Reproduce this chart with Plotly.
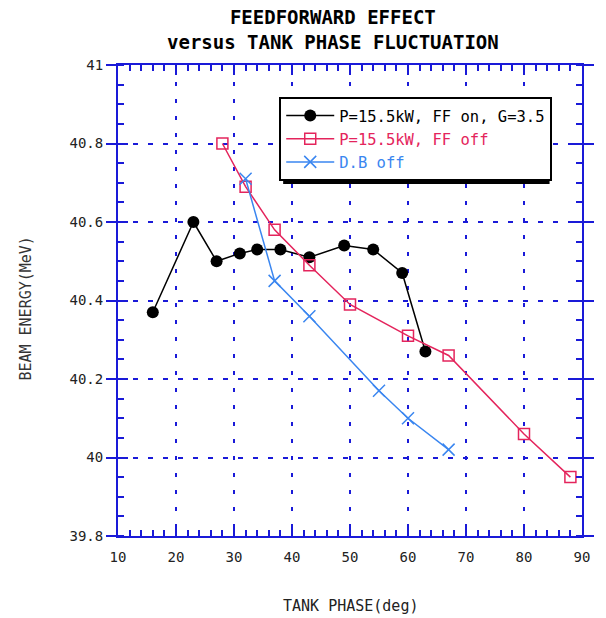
import plotly.graph_objects as go

# Data
ff_on_x = [16, 23, 27, 31, 34, 38, 43, 49, 54, 59, 63]
ff_on_y = [40.37, 40.60, 40.50, 40.52, 40.53, 40.53, 40.51, 40.54, 40.53, 40.47, 40.27]

ff_off_x = [28, 32, 37, 43, 50, 60, 67, 80, 88]
ff_off_y = [40.80, 40.69, 40.58, 40.49, 40.39, 40.31, 40.26, 40.06, 39.95]

db_off_x = [32, 37, 43, 55, 60, 67]
db_off_y = [40.71, 40.45, 40.36, 40.17, 40.10, 40.02]

series_names = ["P=15.5kW, FF on, G=3.5", "P=15.5kW, FF off", "D.B off"]
x_ticks = [10, 20, 30, 40, 50, 60, 70, 80, 90]
y_ticks = [39.8, 40.0, 40.2, 40.4, 40.6, 40.8, 41.0]
y_tick_text = ["39.8", "40", "40.2", "40.4", "40.6", "40.8", "41"]

BLACK = "#000000"
RED = "#e4245c"
BLUE = "#3a86f0"
AXIS = "#1a1ad8"
MONO = "DejaVu Sans Mono"

X_RANGE = [10, 90]
Y_RANGE = [39.8, 41.0]

# plot area in pixels (for paper-coordinate conversion of decorations)
L, R, T, B = 118, 590, 65, 536
PW, PH = R - L, B - T


def px(x):
    return (x - L) / PW


def py(y):
    return (B - y) / PH


fig = go.Figure()
fig.add_trace(go.Scatter(
    x=ff_on_x, y=ff_on_y, mode="lines+markers", name=series_names[0],
    line=dict(color=BLACK, width=1.5),
    marker=dict(symbol="circle", size=12, color=BLACK),
))
fig.add_trace(go.Scatter(
    x=ff_off_x, y=ff_off_y, mode="lines+markers",
    name=f"<span style='color:{RED}'>{series_names[1]}</span>",
    line=dict(color=RED, width=1.5),
    marker=dict(symbol="square-open", size=11, color=RED, line=dict(width=1.5, color=RED)),
))
fig.add_trace(go.Scatter(
    x=db_off_x, y=db_off_y, mode="lines+markers",
    name=f"<span style='color:{BLUE}'>{series_names[2]}</span>",
    line=dict(color=BLUE, width=1.5),
    marker=dict(symbol="x-thin", size=12, color=BLUE, line=dict(width=1.5, color=BLUE)),
))
# invisible trace to anchor the overlay y axis (crossing ticks)
fig.add_trace(go.Scatter(x=[None], y=[None], yaxis="y2", showlegend=False, hoverinfo="skip"))

fig.update_layout(
    width=606, height=618,
    margin=dict(l=L, r=606 - R, t=T, b=618 - B),
    paper_bgcolor="white", plot_bgcolor="white",
    font=dict(family=MONO, color="#222222", size=14),
    xaxis=dict(
        range=X_RANGE, tickvals=x_ticks, ticks="inside", ticklen=10, tickwidth=1.5,
        tickcolor=AXIS, showline=True, linecolor=AXIS, linewidth=2, mirror="ticks",
        showgrid=True, gridcolor=AXIS, gridwidth=1.5, griddash="4px,13px",
        zeroline=False, ticklabelstandoff=7,
        tickfont=dict(family=MONO, size=14, color="#222222"),
        minor=dict(dtick=2, ticks="inside", ticklen=6, tickwidth=1.5, tickcolor=AXIS, showgrid=False),
    ),
    yaxis=dict(
        range=Y_RANGE, tickvals=y_ticks, ticktext=y_tick_text, ticks="outside", ticklen=10,
        tickwidth=1.5, tickcolor=AXIS, showline=True, linecolor=AXIS, linewidth=2, mirror="ticks",
        showgrid=True, gridcolor=AXIS, gridwidth=1.5, griddash="5px,10px",
        zeroline=False,
        tickfont=dict(family=MONO, size=14, color="#222222"),
        minor=dict(dtick=0.05, ticks="inside", ticklen=6, tickwidth=1.5, tickcolor=AXIS, showgrid=False),
    ),
    yaxis2=dict(
        range=Y_RANGE, overlaying="y", side="left", tickvals=y_ticks, ticks="inside",
        ticklen=10, tickwidth=1.5, tickcolor=AXIS, mirror="ticks", showline=False,
        showgrid=False, zeroline=False, showticklabels=False,
    ),
    legend=dict(
        x=px(282), y=py(97), xanchor="left", yanchor="top",
        bgcolor="white", bordercolor="#000000", borderwidth=2,
        font=dict(family=MONO, size=15.5, color="#000000"),
        itemwidth=48, tracegroupgap=0,
    ),
    showlegend=True,
    annotations=[
        dict(text="<b>FEEDFORWARD EFFECT<br>versus TANK PHASE FLUCTUATION</b>",
             x=px(337), y=py(29), xref="paper", yref="paper", showarrow=False,
             xanchor="center", yanchor="middle",
             font=dict(family=MONO, size=19, color="#000000")),
        dict(text="BEAM ENERGY(MeV)", textangle=-90, x=px(24), y=py(308),
             xref="paper", yref="paper", showarrow=False, xanchor="center", yanchor="middle",
             font=dict(family=MONO, size=15, color="#333333")),
        dict(text="TANK PHASE(deg)", x=0.5, y=py(606),
             xref="paper", yref="paper", showarrow=False, xanchor="center", yanchor="middle",
             font=dict(family=MONO, size=15, color="#222222")),
    ],
    shapes=[
        dict(type="rect", xref="paper", yref="paper",
             x0=px(286), x1=px(557), y0=py(184), y1=py(101),
             fillcolor="#000000", line=dict(width=0), layer="above"),
    ],
)

fig.write_html("out.html")
